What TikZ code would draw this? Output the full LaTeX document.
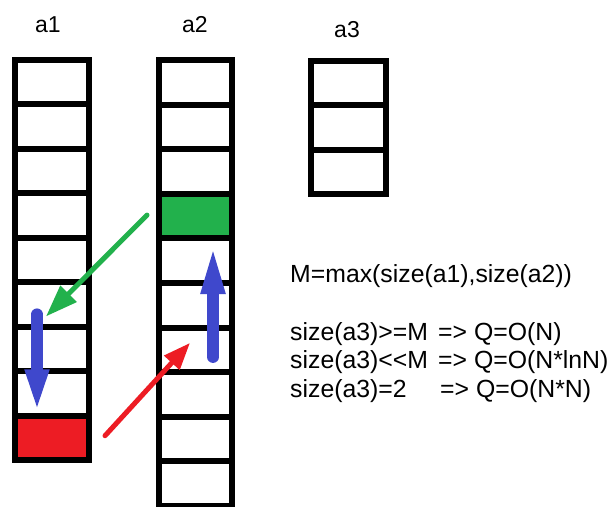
\documentclass[tikz,border=0pt]{standalone}
\usepackage{fontspec}
\setmainfont{Liberation Sans}[Ligatures=NoCommon]
\usetikzlibrary{arrows.meta,calc}
\definecolor{pgreen}{HTML}{22B14C}
\definecolor{pred}{HTML}{ED1C24}
\definecolor{pblue}{HTML}{3F48CC}
\begin{document}
\begin{tikzpicture}[x=1pt,y=-1pt,
  cellA/.style={draw=black,line width=6pt,minimum width=74pt,minimum height=44.44pt,inner sep=0pt},
  cellB/.style={draw=black,line width=6pt,minimum width=73pt,minimum height=44.6pt,inner sep=0pt},
  cellC/.style={draw=black,line width=6pt,minimum width=75pt,minimum height=44.33pt,inner sep=0pt},
  lbl/.style={font=\fontsize{23}{26}\selectfont,anchor=base,inner sep=0pt},
  txt/.style={font=\fontsize{24.8}{28}\selectfont,anchor=base west,inner sep=0pt},
  thin/.style={line width=5pt,line cap=round},
  fat/.style={line width=12pt,line cap=round,draw=pblue}]
\useasboundingbox (0,0) rectangle (607,506);
\fill[white] (0,0) rectangle (607,506);
% arrays
\foreach \i in {1,...,9} {\node[cellA] (a1-\i) at (52,{60+44.44*(\i-0.5)}) {};}
\foreach \i in {1,...,10} {\node[cellB] (a2-\i) at (195.5,{60+44.6*(\i-0.5)}) {};}
\foreach \i in {1,...,3} {\node[cellC] (a3-\i) at (348.5,{61+44.33*(\i-0.5)}) {};}
\node[cellA,fill=pred] at (a1-9) {};
\node[cellB,fill=pgreen] at (a2-4) {};
% labels
\node[lbl] (l1) at (48,32) {a1};
\node[lbl] (l2) at (195,32) {a2};
\node[lbl] (l3) at (347,37) {a3};
% arrows
\draw[thin,draw=pgreen,-{Triangle[length=32pt,width=22pt]}] ($(a2-4.west)+(-9,-1)$) -- ($(a1-6.center)+(-6,12)$);
\draw[thin,draw=pred,-{Triangle[length=27pt,width=20pt]}] ($(a1-9.east)+(13,-2)$) -- ($(a2-7.center)+(-5.5,-7)$);
\draw[fat,-{Triangle[length=45pt,width=21pt]}] ($(a1-6.center)+(-15,10)$) -- ($(a1-8.center)+(-15,21)$);
\draw[fat,-{Triangle[length=53pt,width=21pt]}] ($(a2-7.center)+(17.5,7)$) -- ($(a2-5.center)+(17.5,-19.5)$);
% text
\node[txt] (t1) at (290,282) {M=max(size(a1),size(a2))};
\node[txt] (t2) at (290,340) {size(a3)>{}=M};
\node[txt] (t2b) at (438,340) {=> Q=O(N)};
\node[txt] (t3) at (290,368) {size(a3)<{}<M};
\node[txt] (t3b) at (438,368) {=> Q=O(N*lnN)};
\node[txt] (t4) at (290,397) {size(a3)=2};
\node[txt] (t4b) at (440,397) {=> Q=O(N*N)};
\end{tikzpicture}
\end{document}
